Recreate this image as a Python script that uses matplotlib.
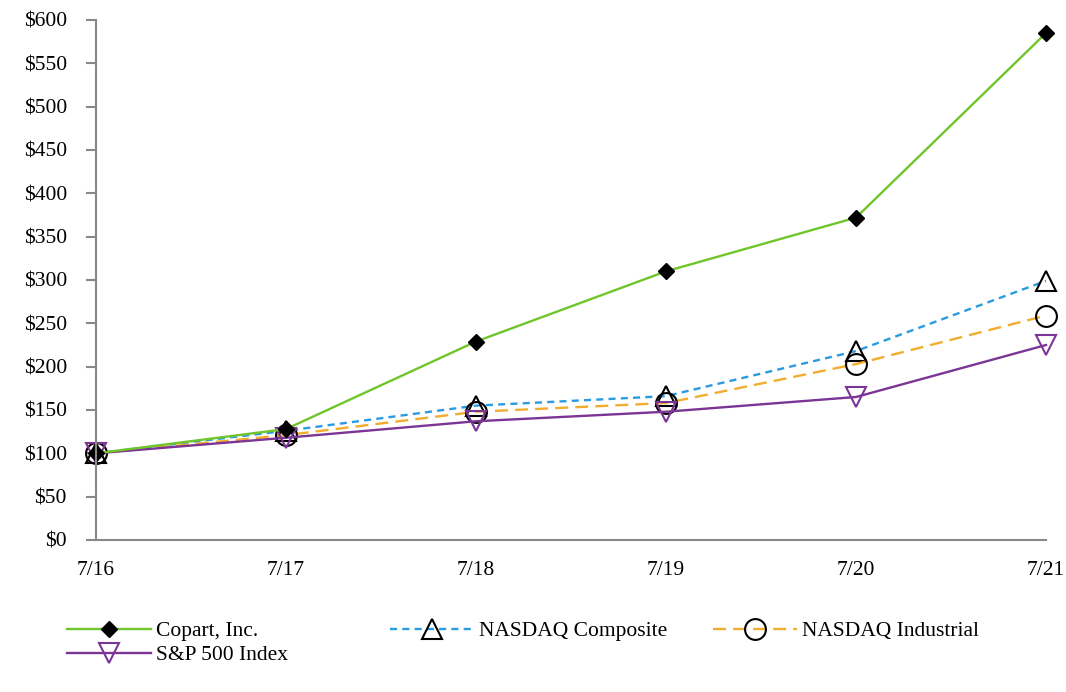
import matplotlib
matplotlib.use("Agg")
import matplotlib.pyplot as plt
from matplotlib.ticker import FuncFormatter

plt.rcParams['font.family'] = ['Liberation Serif', 'DejaVu Serif']

periods = ["7/16", "7/17", "7/18", "7/19", "7/20", "7/21"]
copart = [100, 128, 229, 310, 372, 585]
nasdaq_comp = [100, 126, 155, 166, 218, 299]
nasdaq_ind = [100, 121, 148, 158, 203, 259]
sp500 = [100, 118, 137, 148, 165, 225]
y_ticks = list(range(0, 601, 50))

FS = 15.5

fig = plt.figure(figsize=(10.66, 6.92), dpi=100)
ax = fig.add_axes([96/1066, 1 - 540/692, (1046-96)/1066, 520/692])

x = list(range(len(periods)))
h1, = ax.plot(x, copart, color='#6fc52a', lw=1.7, marker='D', ms=8,
              mfc='black', mec='black', label='Copart, Inc.', zorder=4)
h2, = ax.plot(x, nasdaq_comp, color='#2a9be0', lw=1.7, ls=(0, (3, 2.2)), marker='^', ms=15,
              mfc='none', mec='black', mew=1.5, label='NASDAQ Composite', zorder=3)
h3, = ax.plot(x, nasdaq_ind, color='#f2ac2e', lw=1.7, ls=(0, (5.5, 3)), marker='o', ms=15,
              mfc='none', mec='black', mew=1.5, label='NASDAQ Industrial', zorder=3)
h4, = ax.plot(x, sp500, color='#7b3595', lw=1.7, marker='v', ms=15,
              mfc='none', mec='#7b3595', mew=1.5, label='S&P 500 Index', zorder=3)

ax.set_xlim(0, len(periods) - 1)
ax.set_ylim(0, 600)
ax.set_yticks(y_ticks)
ax.yaxis.set_major_formatter(FuncFormatter(lambda v, p: f"${int(v)}"))
ax.set_xticks(x)
ax.set_xticklabels(periods)

for s in ['top', 'right']:
    ax.spines[s].set_visible(False)
for s in ['left', 'bottom']:
    ax.spines[s].set_color('#888888')
    ax.spines[s].set_linewidth(1.5)
ax.spines['left'].set_zorder(5)
ax.tick_params(axis='y', direction='out', length=7, width=1.5, color='#888888',
               labelsize=FS, pad=14)
ax.tick_params(axis='x', length=0, labelsize=FS, pad=15)

for sp in ax.spines.values():
    sp.set_clip_on(False)
for ln in ax.lines:
    ln.set_clip_on(False)

common = dict(loc='upper left', frameon=False, fontsize=FS, handlelength=3.9,
              labelspacing=0.2, handletextpad=0.25, borderaxespad=0, borderpad=0)
top = 1 - 621/692
leg1 = fig.legend(handles=[h1, h4], bbox_to_anchor=(67/1066, top), **common)
leg2 = fig.legend(handles=[h2], bbox_to_anchor=(390/1066, top), **common)
leg3 = fig.legend(handles=[h3], bbox_to_anchor=(713/1066, top), **common)

fig.savefig("out.png", dpi=100)
